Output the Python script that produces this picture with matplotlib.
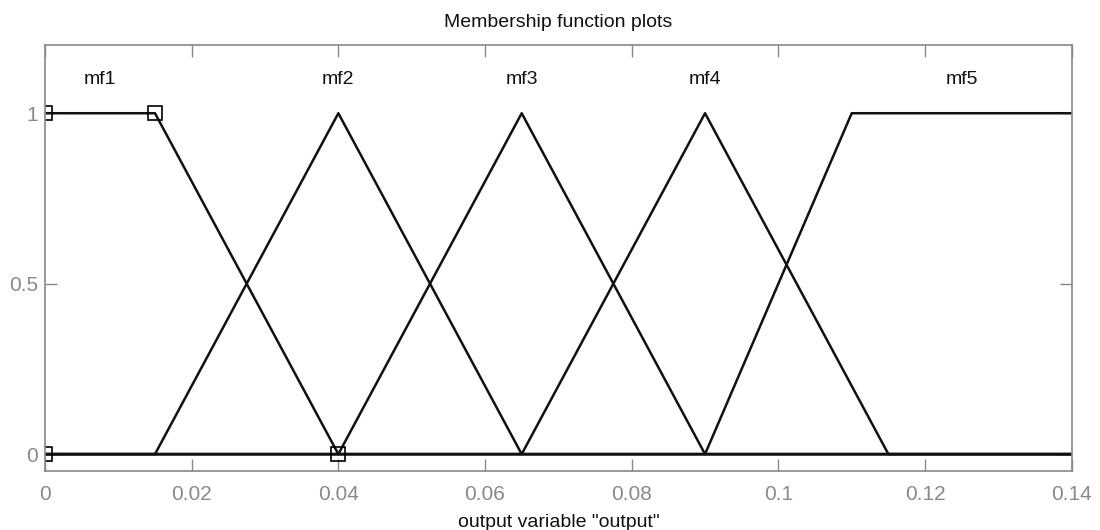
import matplotlib
matplotlib.use("Agg")
import matplotlib.pyplot as plt

plt.rcParams['font.family'] = ['Liberation Sans', 'DejaVu Sans']

# membership function parameters (x of the polyline vertices)
mf_names = ['mf1', 'mf2', 'mf3', 'mf4', 'mf5']
mf_x = [
    [0.0, 0.015, 0.04, 0.14],
    [0.0, 0.015, 0.04, 0.065, 0.14],
    [0.0, 0.04, 0.065, 0.09, 0.14],
    [0.0, 0.065, 0.09, 0.115, 0.14],
    [0.0, 0.09, 0.11, 0.14],
]
mf_y = [
    [1, 1, 0, 0],
    [0, 0, 1, 0, 0],
    [0, 0, 1, 0, 0],
    [0, 0, 1, 0, 0],
    [0, 0, 1, 1],
]
label_x = [0.0075, 0.04, 0.065, 0.09, 0.125]
label_y = 1.1

# selected mf1 parameter handles
sel_x = [0.0, 0.015, 0.0, 0.04]
sel_y = [1, 1, 0, 0]

fig = plt.figure(figsize=(11, 5.3), dpi=100)
ax = fig.add_axes([0.0409, 0.111, 0.9334, 0.804])

for xs, ys in zip(mf_x, mf_y):
    ax.plot(xs, ys, color='#111111', lw=1.8, solid_joinstyle='round')

ax.plot(sel_x, sel_y, linestyle='none', marker='s', ms=9.5, mfc='none',
        mec='black', mew=1.2)

for name, lx in zip(mf_names, label_x):
    ax.text(lx, label_y, name, ha='center', va='center', fontsize=14, color='#111111')

ax.set_xlim(0, 0.14)
ax.set_ylim(-0.05, 1.2)
ax.set_xticks([0, 0.02, 0.04, 0.06, 0.08, 0.1, 0.12, 0.14])
ax.set_xticklabels(['0', '0.02', '0.04', '0.06', '0.08', '0.1', '0.12', '0.14'])
ax.set_yticks([0, 0.5, 1])
ax.set_yticklabels(['0', '0.5', '1'])
ax.tick_params(direction='in', top=True, right=True, length=8.5, width=1,
               color='#888888', labelcolor='#8a8a8a', labelsize=15)
ax.tick_params(axis='x', pad=10)
ax.tick_params(axis='y', pad=5)
for s in ax.spines.values():
    s.set_color('#888888')
    s.set_linewidth(1.2)

ax.set_title('Membership function plots', fontsize=14, pad=13, color='#111111')
ax.set_xlabel('output variable "output"', fontsize=14, labelpad=7, color='#111111')

fig.savefig('out.png', dpi=100, facecolor='white')
